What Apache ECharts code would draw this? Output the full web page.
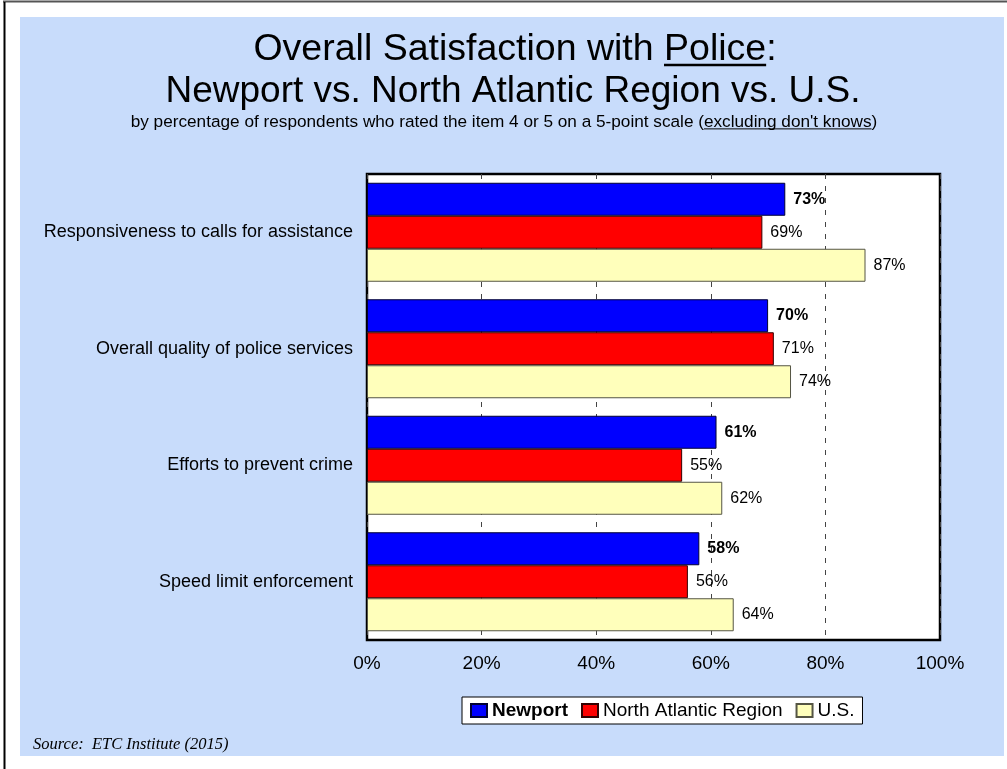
<!DOCTYPE html>
<html>
<head>
<meta charset="utf-8">
<title>Overall Satisfaction with Police</title>
<script src="https://cdn.jsdelivr.net/npm/echarts@6/dist/echarts.min.js"></script>
<style>
  html, body { margin: 0; padding: 0; background: #ffffff; }
  #chart { width: 1007px; height: 769px; }
</style>
</head>
<body>
<div id="chart"></div>
<script>
// Survey items (top to bottom) and the share of respondents rating 4 or 5
const categories = [
  'Responsiveness to calls for assistance',
  'Overall quality of police services',
  'Efforts to prevent crime',
  'Speed limit enforcement'
];
const seriesNames = ['Newport', 'North Atlantic Region', 'U.S.'];
const newport = [73, 70, 61, 58];
const northAtlantic = [69, 71, 55, 56];
const unitedStates = [87, 74, 62, 64];

const titleLine1Parts = ['Overall Satisfaction with ', 'Police', ':'];
const titleLine2 = 'Newport vs. North Atlantic Region vs. U.S.';
const subtitleParts = ['by percentage of respondents who rated the item 4 or 5 on a 5-point scale (', "excluding don't knows", ')'];
const sourceNote = 'Source:  ETC Institute (2015)';

const FONT = '"Liberation Sans", Arial, sans-serif';
const SERIF = '"Liberation Serif", "Times New Roman", serif';

// measure text so underlines sit under the right words
const measureCtx = document.createElement('canvas').getContext('2d');
function textWidth(str, size, weight) {
  measureCtx.font = (weight || 'normal') + ' ' + size + 'px ' + FONT;
  return measureCtx.measureText(str).width;
}

// a centred line of text with one underlined segment
function underlinedLine(parts, cx, cy, size, lineW) {
  const full = parts.join('');
  const w = textWidth(full, size);
  const left = cx - w / 2;
  const ulStart = left + textWidth(parts[0], size);
  const ulEnd = ulStart + textWidth(parts[1], size);
  const ulY = cy + size * 0.40;
  return [
    {
      type: 'text', z: 10, x: cx, y: cy,
      style: { text: full, fill: '#000', font: size + 'px ' + FONT, align: 'center', verticalAlign: 'middle' }
    },
    {
      type: 'line', z: 10,
      shape: { x1: ulStart, y1: ulY, x2: ulEnd, y2: ulY },
      style: { stroke: '#000', lineWidth: lineW }
    }
  ];
}

const centerX = 513;
const graphics = [
  // page frame
  { type: 'line', z: -20, shape: { x1: 3, y1: 1.5, x2: 1007, y2: 1.5 }, style: { stroke: '#555', lineWidth: 2 } },
  { type: 'line', z: -20, shape: { x1: 4.5, y1: 2, x2: 4.5, y2: 769 }, style: { stroke: '#000', lineWidth: 2 } },
  // light blue slide panel
  { type: 'rect', z: -20, shape: { x: 20, y: 17, width: 984, height: 739 }, style: { fill: '#C8DCFB' } },
  {
    type: 'text', z: 10, x: centerX, y: 92,
    style: { text: titleLine2, fill: '#000', font: '37px ' + FONT, align: 'center', verticalAlign: 'middle' }
  },
  {
    type: 'text', z: 10, x: 33, y: 745,
    style: { text: sourceNote, fill: '#000', font: 'italic 16.5px ' + SERIF, align: 'left', verticalAlign: 'middle' }
  }
].concat(
  underlinedLine(titleLine1Parts, 515, 50, 37.5, 2.5),
  underlinedLine(subtitleParts, 504, 122, 17.2, 1)
);

function barSeries(name, values, color, border, bold) {
  return {
    name: name,
    type: 'bar',
    data: values,
    barWidth: 33,
    barGap: '0%',
    itemStyle: { color: color, borderColor: border, borderWidth: 1 },
    label: {
      show: true,
      position: 'right',
      distance: 8,
      formatter: '{c}%',
      color: '#000',
      fontFamily: FONT,
      fontSize: 16,
      fontWeight: bold ? 'bold' : 'normal'
    }
  };
}

const chart = echarts.init(document.getElementById('chart'), null, { renderer: 'canvas' });
chart.setOption({
  backgroundColor: '#ffffff',
  animation: false,
  textStyle: { fontFamily: FONT },
  graphic: { elements: graphics },
  grid: {
    left: 367, top: 174, width: 573, height: 466,
    show: true, backgroundColor: '#ffffff', borderColor: '#000', borderWidth: 2.5,
    containLabel: false
  },
  legend: {
    left: 462, top: 697,
    orient: 'horizontal',
    backgroundColor: '#ffffff',
    borderColor: '#000',
    borderWidth: 1,
    padding: [4, 8],
    itemGap: 13,
    itemWidth: 16,
    itemHeight: 13,
    icon: 'rect',
    textStyle: { fontFamily: FONT, fontSize: 19, color: '#000' },
    data: [
      { name: seriesNames[0], textStyle: { fontWeight: 'bold' } },
      { name: seriesNames[1] },
      { name: seriesNames[2] }
    ]
  },
  xAxis: {
    type: 'value',
    min: 0, max: 100, interval: 20,
    axisLine: { show: false },
    axisTick: { show: false },
    axisLabel: { formatter: '{value}%', fontFamily: FONT, fontSize: 19, color: '#000', margin: 14 },
    splitLine: { show: true, lineStyle: { color: '#444', width: 1, type: [5, 7] } }
  },
  yAxis: {
    type: 'category',
    inverse: true,
    data: categories,
    axisLine: { show: false },
    axisTick: { show: false },
    axisLabel: { fontFamily: FONT, fontSize: 18, color: '#000', margin: 14, padding: [6, 0, 0, 0] },
    splitLine: { show: false }
  },
  series: [
    barSeries(seriesNames[0], newport, '#0000FF', '#000033', true),
    barSeries(seriesNames[1], northAtlantic, '#FF0000', '#330000', false),
    barSeries(seriesNames[2], unitedStates, '#FFFFBB', '#555544', false)
  ]
});
</script>
</body>
</html>
